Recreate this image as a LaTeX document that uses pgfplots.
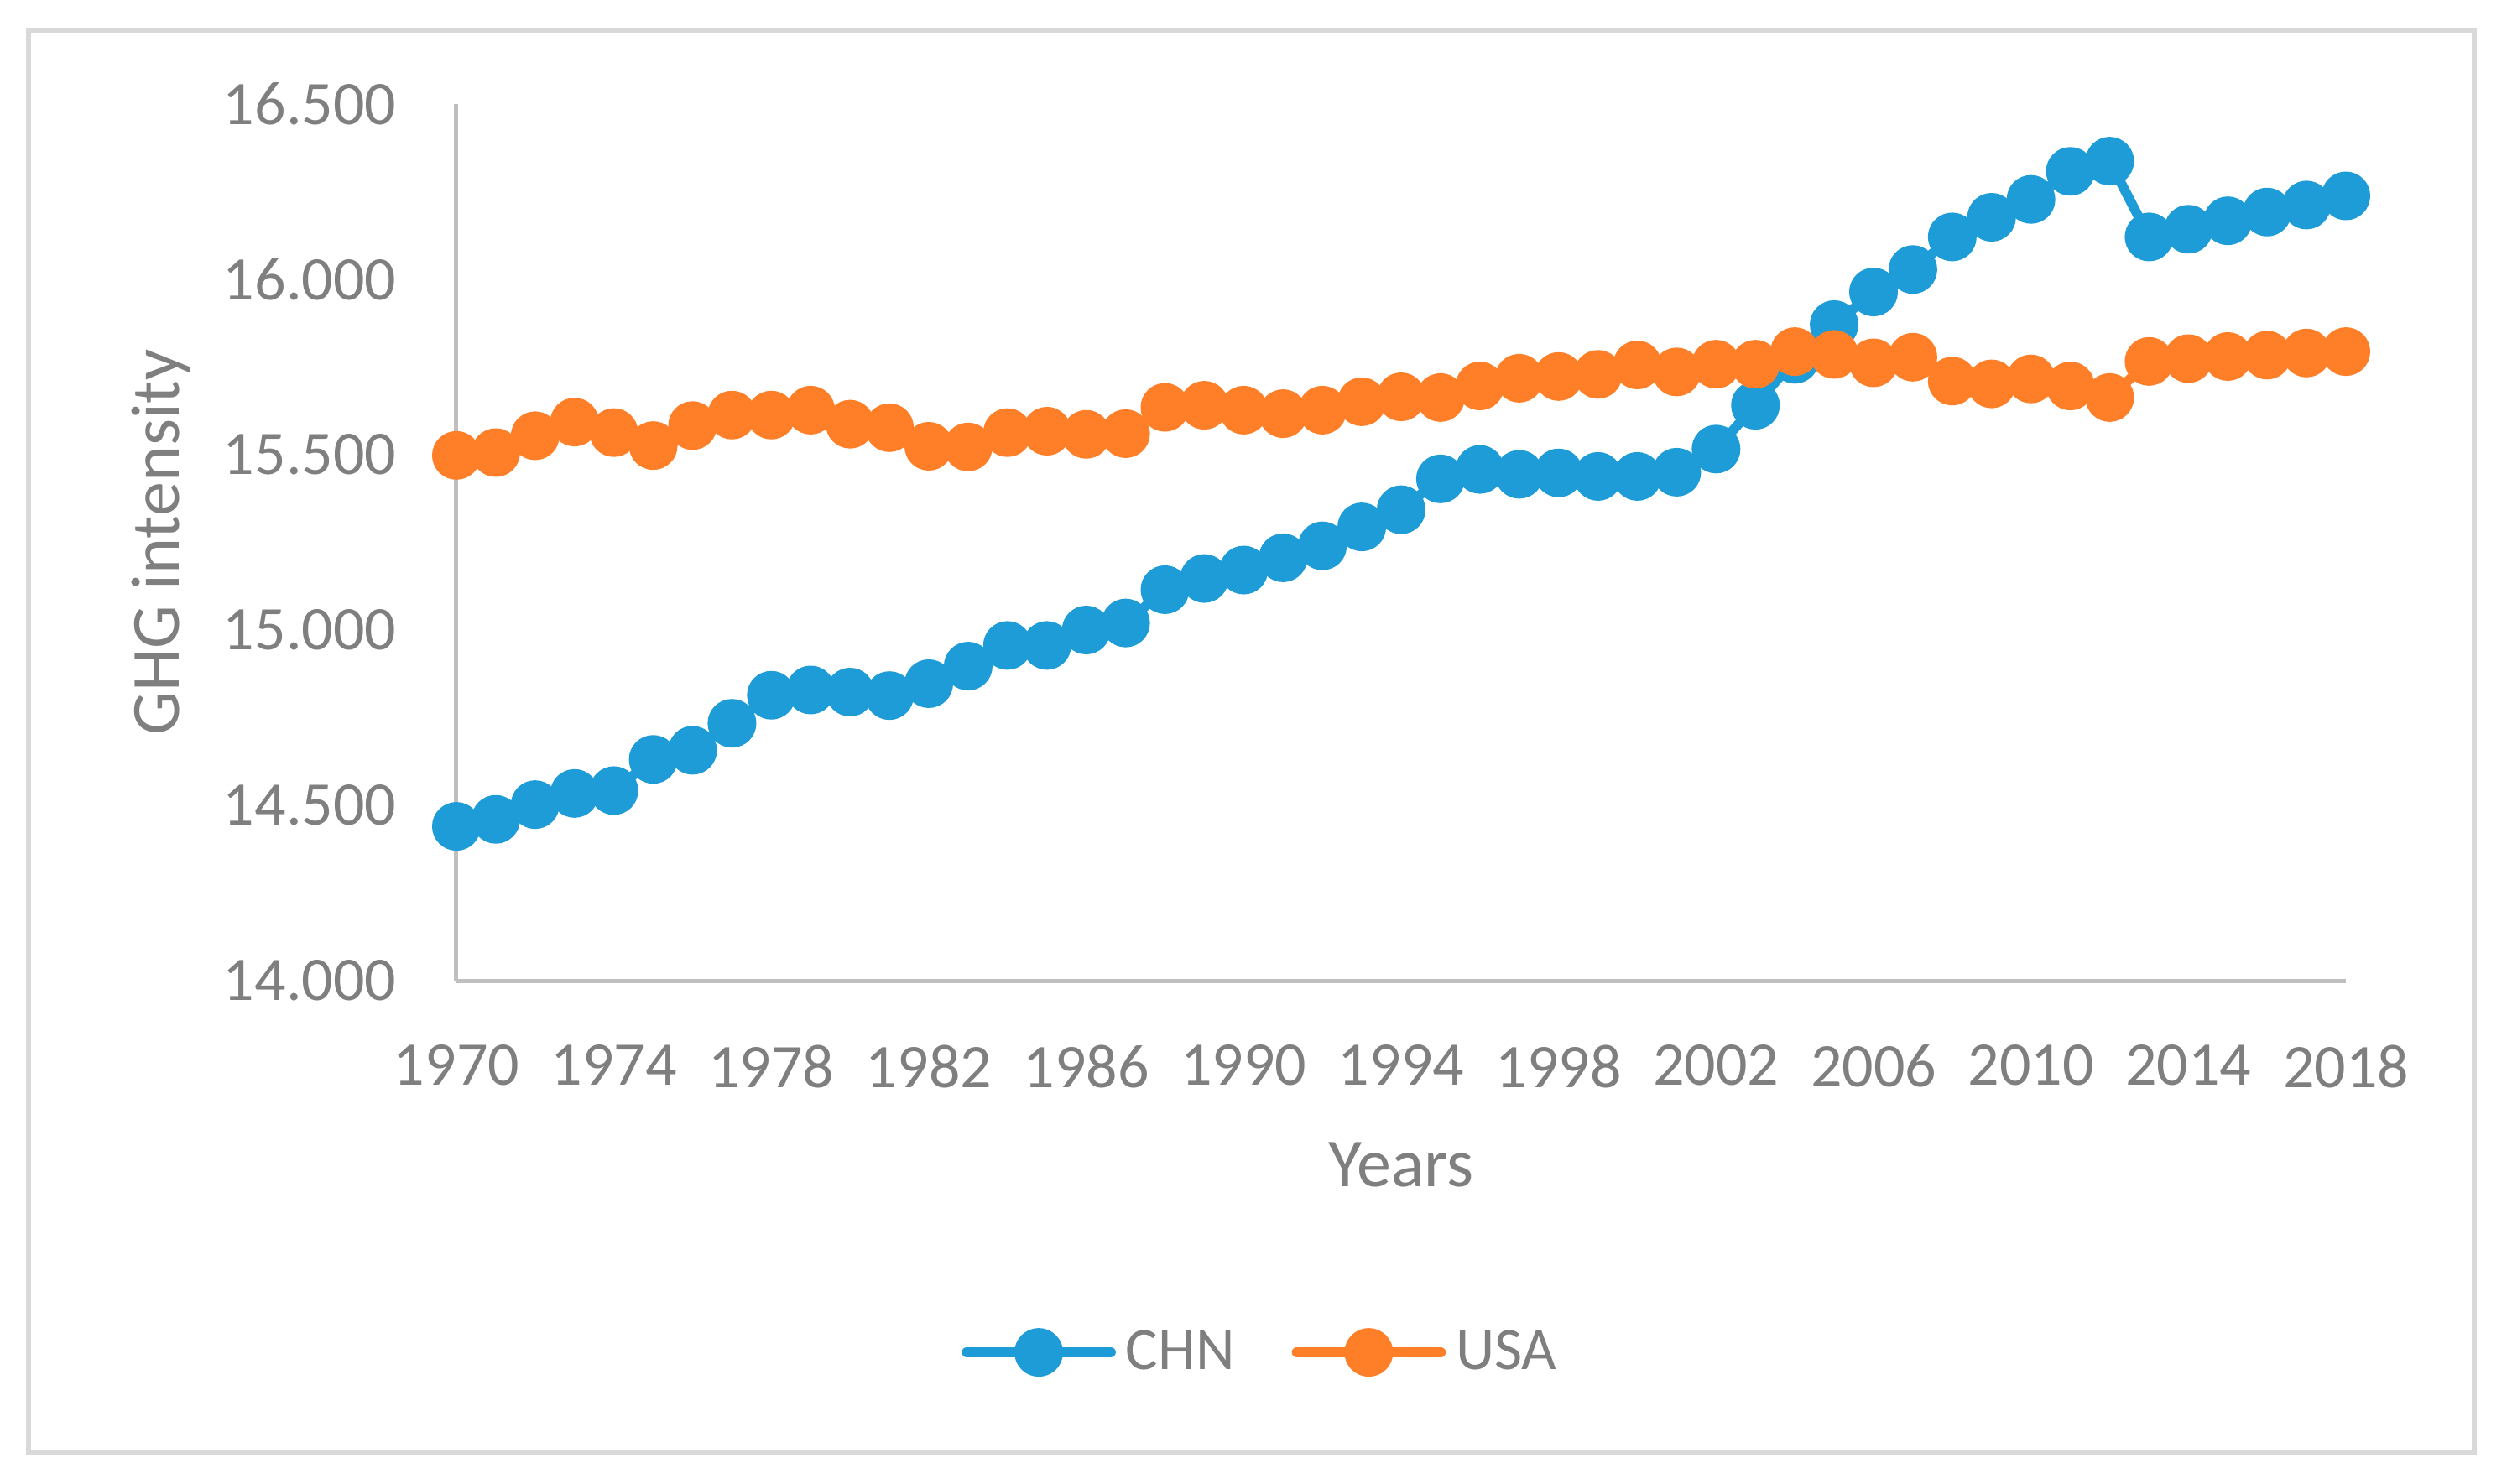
\documentclass[border=0pt]{standalone}
\usepackage{pgfplots}
\pgfplotsset{compat=1.18}
\usepackage{fontspec}
\setmainfont{Carlito}
\definecolor{chn}{HTML}{1E9CD7}
\definecolor{usa}{HTML}{FE7F27}
\definecolor{txtgray}{HTML}{7F7F7F}
\definecolor{axgray}{HTML}{BFBFBF}
\definecolor{framegray}{HTML}{D9D9D9}

\pgfplotstableread{
year chn usa
1970 14.440 15.498
1971 14.460 15.506
1972 14.502 15.554
1973 14.534 15.593
1974 14.542 15.563
1975 14.631 15.526
1976 14.657 15.583
1977 14.734 15.613
1978 14.814 15.613
1979 14.829 15.627
1980 14.823 15.587
1981 14.813 15.577
1982 14.847 15.524
1983 14.897 15.522
1984 14.956 15.563
1985 14.956 15.567
1986 15.000 15.558
1987 15.020 15.560
1988 15.115 15.635
1989 15.147 15.641
1990 15.171 15.627
1991 15.206 15.617
1992 15.240 15.627
1993 15.294 15.651
1994 15.343 15.665
1995 15.431 15.663
1996 15.458 15.696
1997 15.444 15.718
1998 15.448 15.723
1999 15.438 15.729
2000 15.438 15.756
2001 15.450 15.736
2002 15.516 15.758
2003 15.641 15.758
2004 15.772 15.794
2005 15.871 15.786
2006 15.964 15.762
2007 16.028 15.778
2008 16.121 15.710
2009 16.177 15.702
2010 16.228 15.716
2011 16.308 15.696
2012 16.337 15.663
2013 16.121 15.766
2014 16.143 15.774
2015 16.167 15.780
2016 16.192 15.784
2017 16.212 15.790
2018 16.238 15.794
}\ghg

\begin{document}
\begin{tikzpicture}
% chart area frame and page size
\path[use as bounding box] (-136pt,-149.75pt) rectangle (612.5pt,292.25pt);
\draw[framegray, line width=1.5pt] (-127.5pt,-140.75pt) rectangle (601.25pt,283.25pt);
\begin{axis}[
  at={(0,0)}, anchor=south west,
  scale only axis, width=563pt, height=261.25pt,
  xmin=1970, xmax=2018, ymin=14, ymax=16.5,
  xtick={1970,1974,...,2018}, ytick={14,14.5,...,16.5},
  axis lines*=left,
  axis line style={axgray, line width=1.25pt, -},
  major tick length=0pt,
  clip=false,
  font=\fontsize{18.5}{22}\selectfont\color{txtgray},
  tick label style={inner sep=0pt, font=\fontsize{18.5}{22}\selectfont, text=txtgray},
  xticklabel style={anchor=north, yshift=-19pt, /pgf/number format/1000 sep={}},
  yticklabel style={anchor=east, xshift=-17.75pt,
    /pgf/number format/.cd, fixed, fixed zerofill, precision=3},
  /pgf/number format/assume math mode=true,
  xlabel={Years}, ylabel={GHG intensity},
  label style={font=\fontsize{20.5}{24}\selectfont, text=txtgray},
  xlabel style={at={(axis description cs:0.5,-0.2105)}, anchor=center},
  ylabel style={at={(axis description cs:-0.1563,0.5)}, anchor=center},
  legend columns=2,
  legend style={at={(axis description cs:0.4276,-0.424)}, anchor=center,
    draw=none, fill=none, font=\fontsize{18}{22}\selectfont, text=txtgray,
    inner sep=0pt,
    nodes={inner sep=3pt},
    /tikz/every even column/.append style={column sep=14pt}},
  legend cell align=left,
  legend image code/.code={
    \draw[mark repeat=2, mark phase=2, line cap=round]
      plot coordinates {(0pt,0pt) (21.5pt,0pt) (43pt,0pt)};},
  every axis plot/.append style={line width=2.9pt, line cap=round, line join=round,
    mark=*, mark size=5.8pt, mark options={solid, line width=0pt}},
]
\addplot[chn, mark options={fill=chn, draw=chn}] table[x=year, y=chn] {\ghg};
\addlegendentry{CHN}
\addplot[usa, mark options={fill=usa, draw=usa}] table[x=year, y=usa] {\ghg};
\addlegendentry{USA}
\end{axis}
\end{tikzpicture}
\end{document}
